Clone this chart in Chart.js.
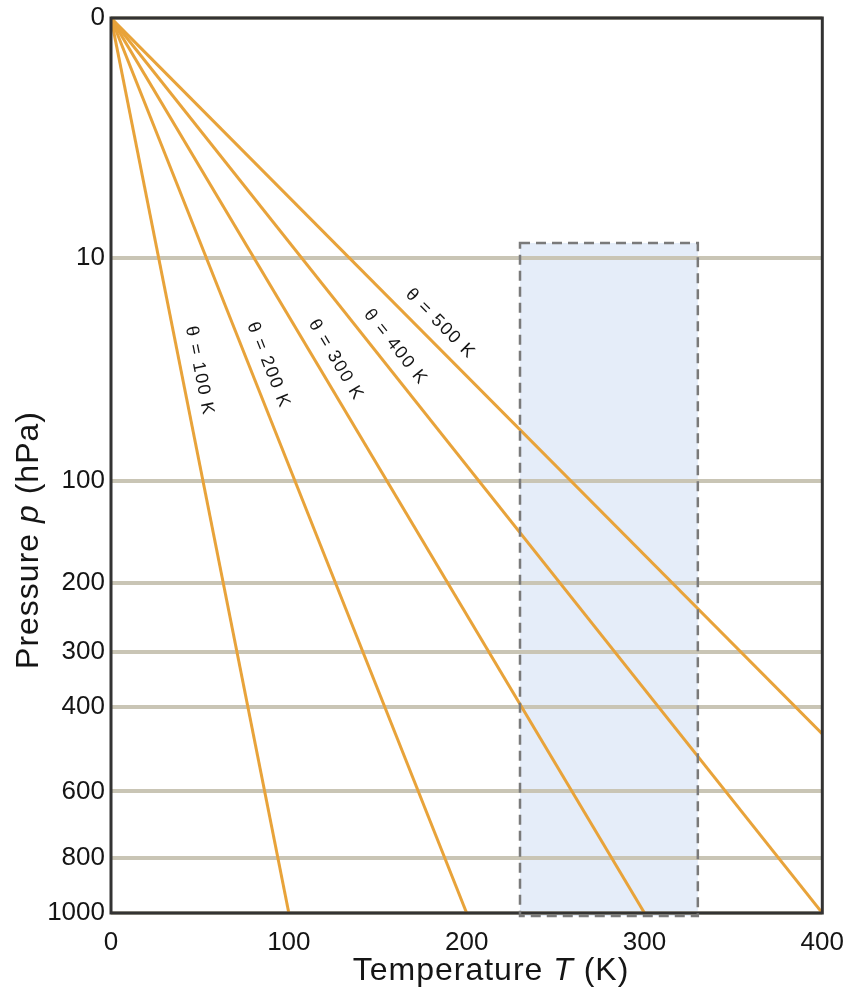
<!DOCTYPE html>
<html lang="en">
<head>
<meta charset="UTF-8">
<title>Potential temperature lines</title>
<script src="https://cdn.jsdelivr.net/npm/chart.js"></script>
<style>
  body { margin: 0; background: #ffffff; }
  canvas { display: block; }
</style>
</head>
<body>
<canvas id="chart" width="850" height="991"></canvas>
<script>
// potential temperature lines (K)
const THETA = [100, 200, 300, 400, 500];
const LINE_P = [0, 1000];                 // hPa, top and surface
const LINE_T = [[0, 100], [0, 200], [0, 300], [0, 400], [0, 500]];  // K at those pressures
const LABEL_P = [40, 39, 38, 34, 27];     // pressure where each label sits
const Y_TICKS = [0, 10, 100, 200, 300, 400, 600, 800, 1000];
const X_TICKS = [0, 100, 200, 300, 400];
// shaded range of observed temperatures
const BOX_T = [230, 330];
const BOX_P = [8, 1012];
const KAPPA = 0.286;

const FONT = '"Liberation Sans", Arial, Helvetica, sans-serif';

// pressure axis that is linear in p^kappa
class KappaScale extends Chart.LinearScale {
    static id = 'kappa';
    static defaults = {};
    getPixelForValue(value) {
        if (value === null || isNaN(value)) return NaN;
        const d = Math.pow(Math.max(value - this.min, 0) / (this.max - this.min), KAPPA);
        return this.getPixelForDecimal(d);
    }
    getValueForPixel(pixel) {
        const d = Math.max(this.getDecimalForPixel(pixel), 0);
        return this.min + (this.max - this.min) * Math.pow(d, 1 / KAPPA);
    }
}
Chart.register(KappaScale);

function drawMixed(ctx, parts, x, y) {
    let total = 0;
    parts.forEach(p => { ctx.font = p[1]; total += ctx.measureText(p[0]).width; });
    let cx = x - total / 2;
    parts.forEach(p => {
        ctx.font = p[1];
        ctx.fillText(p[0], cx, y);
        cx += ctx.measureText(p[0]).width;
    });
}

const decor = {
    id: 'decor',
    beforeDraw(chart) {
        const { ctx, scales: { x, y } } = chart;
        const x0 = x.getPixelForValue(BOX_T[0]), x1 = x.getPixelForValue(BOX_T[1]);
        const y0 = y.getPixelForValue(BOX_P[0]), y1 = y.getPixelForValue(BOX_P[1]);
        ctx.save();
        ctx.fillStyle = '#e5edf9';
        ctx.fillRect(x0, y0, x1 - x0, y1 - y0);
        ctx.restore();
    },
    afterDatasetsDraw(chart) {
        const { ctx, chartArea: a, scales: { x, y } } = chart;
        ctx.save();
        // frame
        ctx.strokeStyle = '#333333';
        ctx.lineWidth = 3;
        ctx.strokeRect(a.left, a.top, a.right - a.left, a.bottom - a.top);

        // dashed box outline
        const x0 = x.getPixelForValue(BOX_T[0]), x1 = x.getPixelForValue(BOX_T[1]);
        const y0 = y.getPixelForValue(BOX_P[0]), y1 = y.getPixelForValue(BOX_P[1]);
        ctx.strokeStyle = '#7a7a7a';
        ctx.lineWidth = 2.5;
        ctx.setLineDash([10, 6]);
        ctx.strokeRect(x0, y0, x1 - x0, y1 - y0);
        ctx.setLineDash([]);

        // line labels
        ctx.fillStyle = '#151515';
        ctx.font = '18px ' + FONT;
        ctx.letterSpacing = '1.5px';
        ctx.textAlign = 'center';
        ctx.textBaseline = 'middle';
        THETA.forEach((th, i) => {
            const px0 = x.getPixelForValue(LINE_T[i][0]), py0 = y.getPixelForValue(LINE_P[0]);
            const px1 = x.getPixelForValue(LINE_T[i][1]), py1 = y.getPixelForValue(LINE_P[1]);
            const ly = y.getPixelForValue(LABEL_P[i]);
            const lx = px0 + (ly - py0) * (px1 - px0) / (py1 - py0);
            const ang = Math.atan2(py1 - py0, px1 - px0);
            ctx.save();
            ctx.translate(lx, ly);
            ctx.rotate(ang);
            ctx.fillText('\u03b8 = ' + th + ' K', 0, -18);
            ctx.restore();
        });
        ctx.restore();
    },
    afterDraw(chart) {
        const { ctx, chartArea: a } = chart;
        const normal = '32px ' + FONT, italic = 'italic 32px ' + FONT;
        ctx.save();
        ctx.fillStyle = '#151515';
        ctx.letterSpacing = '1px';
        ctx.textAlign = 'left';
        ctx.textBaseline = 'alphabetic';
        drawMixed(ctx, [['Temperature ', normal], ['T', italic], [' (K)', normal]], a.left + 380, a.bottom + 67);
        ctx.translate(a.left - 73, a.top + 522);
        ctx.rotate(-Math.PI / 2);
        drawMixed(ctx, [['Pressure ', normal], ['p', italic], [' (hPa)', normal]], 0, 0);
        ctx.restore();
    }
};

const datasets = THETA.map((th, i) => ({
    label: '\u03b8 = ' + th + ' K',
    data: LINE_P.map((p, j) => ({ x: LINE_T[i][j], y: p })),
    borderColor: '#e8a33a',
    borderWidth: 3,
    pointRadius: 0,
    tension: 0,
    fill: false
}));

new Chart(document.getElementById('chart'), {
    type: 'line',
    data: { datasets: datasets },
    options: {
        responsive: false,
        animation: false,
        events: [],
        layout: { padding: { top: 18, right: 27, left: 0, bottom: 0 } },
        plugins: {
            legend: { display: false },
            tooltip: { enabled: false }
        },
        scales: {
            x: {
                type: 'linear',
                min: 0,
                max: 400,
                afterBuildTicks: axis => { axis.ticks = X_TICKS.map(v => ({ value: v })); },
                afterFit: axis => { axis.height = 78; },
                grid: { display: false },
                border: { display: false },
                ticks: {
                    padding: 6,
                    color: '#151515',
                    font: { family: FONT, size: 26 },
                    callback: v => String(v)
                }
            },
            y: {
                type: 'kappa',
                reverse: true,
                min: 0,
                max: 1000,
                afterBuildTicks: axis => { axis.ticks = Y_TICKS.map(v => ({ value: v })); },
                afterFit: axis => { axis.width = 111; axis.paddingTop = 0; axis.paddingBottom = 0; },
                grid: { color: '#c9c5b5', lineWidth: 4, drawTicks: false },
                border: { display: false },
                ticks: {
                    padding: 6,
                    autoSkip: false,
                    color: '#151515',
                    font: { family: FONT, size: 26 },
                    callback: v => String(v)
                }
            }
        }
    },
    plugins: [decor]
});
</script>
</body>
</html>
